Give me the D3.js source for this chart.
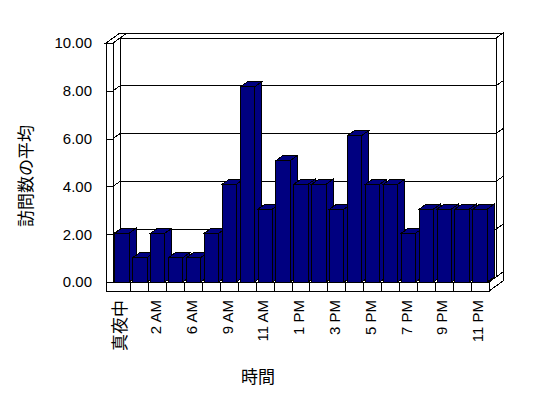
<!DOCTYPE html>
<html>
<head>
<meta charset="utf-8">
<script src="https://cdn.jsdelivr.net/npm/d3@7"></script>
<style>
  body { margin: 0; background: #fff; }
  text { font-family: "Liberation Sans", Arial, "Noto Sans CJK JP", sans-serif; fill: #000; }
</style>
</head>
<body>
<script>
// 時間帯ごとの訪問数の平均 (3D column, Excel style)

var width = 548;
var height = 398;

// categories (hours) - only every other one is labelled
var hours = ["真夜中", "1 AM", "2 AM", "4 AM", "6 AM", "8 AM", "9 AM", "10 AM", "11 AM", "12 PM", "1 PM",
             "2 PM", "3 PM", "4 PM", "5 PM", "6 PM", "7 PM", "8 PM", "9 PM", "10 PM", "11 PM"];
var visits = [2.04, 1.02, 2.04, 1.02, 1.02, 2.04, 4.09, 8.16, 3.05, 5.08, 4.09,
              4.09, 3.05, 6.13, 4.09, 4.09, 2.04, 3.05, 3.05, 3.05, 3.05];
var yTicks = [0, 2, 4, 6, 8, 10];
var xTickLabels = ["真夜中", "2 AM", "6 AM", "9 AM", "11 AM", "1 PM", "3 PM", "5 PM", "7 PM", "9 PM", "11 PM"];

// depth of the 3d box
var dx = 7, dy = -5;
var plotLeft = 113, plotRight = 489, plotBase = 282, plotTop = 43;

var svg = d3.select("body")
  .append("svg")
  .attr("width", width)
  .attr("height", height)
  .attr("shape-rendering", "crispEdges");

var xScale = d3.scaleBand()
  .domain(hours)
  .range([plotLeft, plotRight]);

var yScale = d3.scaleLinear()
  .domain([0, 10])
  .range([plotBase, plotTop]);

function poly(pts) {
  return pts.map(function(p) { return p.join(","); }).join(" ");
}

function face(pts, fill) {
  svg.append("polygon")
    .attr("points", poly(pts))
    .attr("fill", fill || "#fff")
    .attr("stroke", "#000")
    .attr("stroke-width", 1);
}

function line(x1, y1, x2, y2) {
  svg.append("line")
    .attr("x1", x1).attr("y1", y1)
    .attr("x2", x2).attr("y2", y2)
    .attr("stroke", "#000");
}

var bl = plotLeft + dx, br = plotRight + dx;          // back wall x
var yTopB = yScale(10) + dy, yBaseB = plotBase + dy;

// back wall
face([[bl, yTopB], [br, yTopB], [br, yBaseB], [bl, yBaseB]]);
face([[bl, yTopB], [br, yTopB], [br + dx, yTopB + dy], [bl + dx, yTopB + dy]]);
face([[br, yTopB], [br + dx, yTopB + dy], [br + dx, yBaseB + dy], [br, yBaseB]]);

// gridlines on the back wall
yTicks.slice(1, -1).forEach(function(t) {
  var yy = yScale(t) + dy;
  line(bl, yy, br, yy);
  line(br, yy, br + dx, yy + dy);
});

// left wall, inner face
face([[plotLeft, plotTop], [bl, yTopB], [bl, yBaseB], [plotLeft, plotBase]]);
yTicks.slice(1, -1).forEach(function(t) {
  line(plotLeft, yScale(t), bl, yScale(t) + dy);
});

// left wall top
face([[plotLeft - 7, plotTop], [plotLeft, plotTop], [plotLeft + 2 * dx, plotTop + 2 * dy], [plotLeft - 7 + 2 * dx, plotTop + 2 * dy]]);

// floor top
face([[plotLeft, plotBase], [plotRight, plotBase], [br, yBaseB], [bl, yBaseB]]);

// left wall front + floor front (one outline)
var floorBottom = plotBase + 9;
face([[plotLeft - 7, plotTop], [plotLeft, plotTop], [plotLeft, plotBase], [plotRight, plotBase],
      [plotRight, floorBottom], [plotLeft - 7, floorBottom]]);

// floor right side
face([[plotRight, plotBase], [plotRight + 2 * dx, plotBase + 2 * dy], [plotRight + 2 * dx, floorBottom + 2 * dy], [plotRight, floorBottom]]);

// category dividers on the floor front
hours.slice(1).forEach(function(h) {
  var xx = xScale(h);
  line(xx, plotBase, xx, floorBottom);
});

// y axis on the front of the left wall
var yAxis = d3.axisLeft(yScale)
  .tickValues(yTicks)
  .tickFormat(d3.format(".2f"))
  .tickSize(7)
  .tickPadding(14);

var gy = svg.append("g")
  .attr("transform", "translate(" + plotLeft + ",0)")
  .call(yAxis);
gy.select(".domain").remove();
gy.selectAll("text")
  .attr("font-size", "15px")
  .attr("font-family", "Liberation Sans, Arial, sans-serif");

// bars
var bw = xScale.bandwidth();
hours.forEach(function(h, i) {
  var x0 = xScale(h) + bw * 0.1;
  var w = bw * 0.8;
  var yt = yScale(visits[i]);
  var navy = "#000080";
  face([[x0 + w, plotBase], [x0 + w, yt], [x0 + w + dx, yt + dy], [x0 + w + dx, plotBase + dy]], navy);
  face([[x0, yt], [x0 + w, yt], [x0 + w + dx, yt + dy], [x0 + dx, yt + dy]], navy);
  face([[x0, yt], [x0 + w, yt], [x0 + w, plotBase], [x0, plotBase]], navy);
});

// x tick labels (every other hour), rotated
svg.selectAll(".xlab")
  .data(xTickLabels)
  .enter()
  .append("text")
  .attr("class", "xlab")
  .attr("transform", function(d, i) {
    var cx = xScale(hours[i * 2]) + bw / 2 - 2;
    return "translate(" + cx + ",300) rotate(-90)";
  })
  .attr("text-anchor", "end")
  .attr("dy", "0.35em")
  .attr("font-size", function(d, i) { return i === 0 ? "17px" : "15px"; })
  .text(function(d) { return d; });

// axis titles
svg.append("text")
  .attr("transform", "translate(26,176) rotate(-90)")
  .attr("text-anchor", "middle")
  .attr("dy", "0.35em")
  .attr("font-size", "17px")
  .attr("font-family", "Noto Sans CJK JP")
  .text("訪問数の平均");

svg.append("text")
  .attr("x", 258)
  .attr("y", 377)
  .attr("text-anchor", "middle")
  .attr("dy", "0.35em")
  .attr("font-size", "17px")
  .attr("font-family", "Noto Sans CJK JP")
  .text("時間");
</script>
</body>
</html>
